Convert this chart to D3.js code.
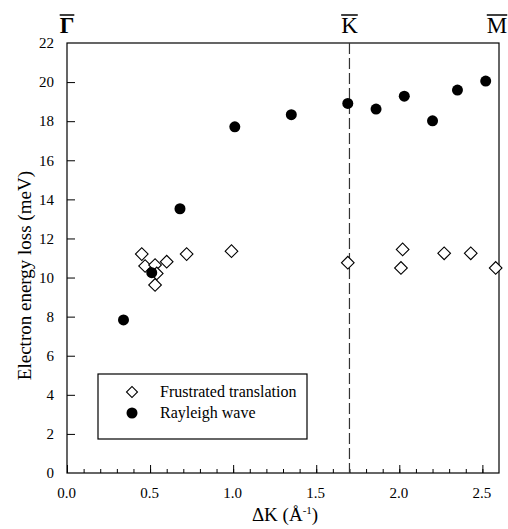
<!DOCTYPE html>
<html>
<head>
<meta charset="utf-8">
<script src="https://cdn.jsdelivr.net/npm/d3@7"></script>
<style>
  body { margin: 0; background: #fff; }
</style>
</head>
<body>
<svg></svg>
<script>
const width = 508;
const height = 529;
const margin = { top: 43, right: 9, bottom: 56, left: 67 };

// Frustrated translation (open diamonds)
const frustratedK = [0.45, 0.47, 0.53, 0.54, 0.53, 0.60, 0.72, 0.99, 1.69, 2.01, 2.02, 2.27, 2.43, 2.58];
const frustratedE = [11.2, 10.59, 10.64, 10.21, 9.62, 10.81, 11.2, 11.35, 10.76, 10.49, 11.44, 11.24, 11.24, 10.49];

// Rayleigh wave (filled circles)
const rayleighK = [0.34, 0.51, 0.68, 1.01, 1.35, 1.69, 1.86, 2.03, 2.20, 2.35, 2.52];
const rayleighE = [7.83, 10.25, 13.52, 17.71, 18.33, 18.91, 18.62, 19.28, 18.02, 19.59, 20.05];

const xMajorTicks = [0.0, 0.5, 1.0, 1.5, 2.0, 2.5];
const yTicks = [0, 2, 4, 6, 8, 10, 12, 14, 16, 18, 20, 22];
const symmetryLabels = ["Γ", "K", "M"];
const symmetryK = [0, 1.7, 2.6];
const kLine = 1.7;

const svg = d3.select("svg").attr("width", width).attr("height", height);

const xScale = d3.scaleLinear().domain([0, 2.6]).range([margin.left, width - margin.right]);
const yScale = d3.scaleLinear().domain([0, 22]).range([height - margin.bottom, margin.top]);

const plotW = width - margin.left - margin.right;
const plotH = height - margin.top - margin.bottom;

// frame
svg.append("rect")
  .attr("x", margin.left).attr("y", margin.top)
  .attr("width", plotW).attr("height", plotH)
  .attr("fill", "none").attr("stroke", "#000").attr("stroke-width", 1.2);

// x axis: minor ticks every 0.1, major every 0.5, pointing inward
const xMinor = d3.range(0, 26).map(d => d / 10);
svg.append("g")
  .attr("transform", "translate(0," + (height - margin.bottom) + ")")
  .call(d3.axisTop(xScale).tickValues(xMinor).tickSize(4).tickFormat(""))
  .call(g => g.select(".domain").remove());

const xAxis = svg.append("g")
  .attr("transform", "translate(0," + (height - margin.bottom) + ")")
  .call(d3.axisBottom(xScale).tickValues(xMajorTicks).tickSizeInner(-8).tickSizeOuter(0).tickPadding(14).tickFormat(d3.format(".1f")));
xAxis.select(".domain").remove();
xAxis.selectAll("text").attr("font-size", 15).attr("dx", -1);

const yAxis = svg.append("g")
  .attr("transform", "translate(" + margin.left + ",0)")
  .call(d3.axisLeft(yScale).tickValues(yTicks).tickSizeInner(-8).tickSizeOuter(0).tickPadding(13));
yAxis.select(".domain").remove();
yAxis.selectAll("text").attr("font-size", 15);
yAxis.selectAll(".tick").filter(d => d === 0 || d === 22).select("line").remove();

// dashed line at K
svg.append("line")
  .attr("x1", xScale(kLine)).attr("x2", xScale(kLine))
  .attr("y1", yScale(22)).attr("y2", yScale(0))
  .attr("stroke", "#333").attr("stroke-width", 1.2)
  .attr("stroke-dasharray", "11,4");

// symmetry point labels with overbars
const sym = svg.append("g");
symmetryLabels.forEach((s, i) => {
  const x = xScale(symmetryK[i]) - (i === 2 ? 2 : 0);
  const t = sym.append("text")
    .attr("x", x).attr("y", 33)
    .attr("text-anchor", "middle")
    .attr("font-size", 23)
    .attr("font-weight", i === 0 ? "bold" : "normal")
    .style("font-family", "Liberation Serif")
    .text(s);
  const w = t.node().getComputedTextLength();
  sym.append("line")
    .attr("x1", x - w / 2).attr("x2", x + w / 2)
    .attr("y1", 15).attr("y2", 15)
    .attr("stroke", "#000").attr("stroke-width", 1.5);
});

// data points
const rotSquare = (x, y) => "translate(" + x + "," + y + ") rotate(45)";

svg.append("g").selectAll("path")
  .data(frustratedK.map((k, i) => [k, frustratedE[i]]))
  .join("path")
  .attr("d", d3.symbol().type(d3.symbolSquare).size(80)())
  .attr("transform", d => rotSquare(xScale(d[0]), yScale(d[1])))
  .attr("fill", "#fff").attr("stroke", "#000").attr("stroke-width", 1.1);

svg.append("g").selectAll("circle")
  .data(rayleighK.map((k, i) => [k, rayleighE[i]]))
  .join("circle")
  .attr("cx", d => xScale(d[0])).attr("cy", d => yScale(d[1]))
  .attr("r", 5.5).attr("fill", "#000");

// legend
const legend = svg.append("g");
legend.append("rect")
  .attr("x", 98).attr("y", 374).attr("width", 209).attr("height", 65)
  .attr("fill", "#fff").attr("stroke", "#000").attr("stroke-width", 1.2);
legend.append("path")
  .attr("d", d3.symbol().type(d3.symbolSquare).size(60)())
  .attr("transform", rotSquare(132, 392))
  .attr("fill", "#fff").attr("stroke", "#000").attr("stroke-width", 1.1);
legend.append("circle").attr("cx", 132).attr("cy", 413).attr("r", 5.5).attr("fill", "#000");
legend.append("text").attr("x", 160).attr("y", 397).attr("font-size", 16).text("Frustrated translation");
legend.append("text").attr("x", 160).attr("y", 418).attr("font-size", 16).text("Rayleigh wave");

// axis titles
const xt = svg.append("text")
  .attr("x", xScale(1.3) + 2).attr("y", 521)
  .attr("text-anchor", "middle").attr("font-size", 19);
xt.append("tspan").text("ΔK (Å");
xt.append("tspan").attr("font-size", 11).attr("dy", -7).text("-1");
xt.append("tspan").attr("dy", 7).text(")");

svg.append("text")
  .attr("transform", "translate(31," + yScale(10.1) + ") rotate(-90)")
  .attr("text-anchor", "middle").attr("font-size", 19)
  .text("Electron energy loss (meV)");

// serif everywhere, like the original figure
svg.selectAll("text").style("font-family", "Liberation Serif").style("fill", "#000");
</script>
</body>
</html>
